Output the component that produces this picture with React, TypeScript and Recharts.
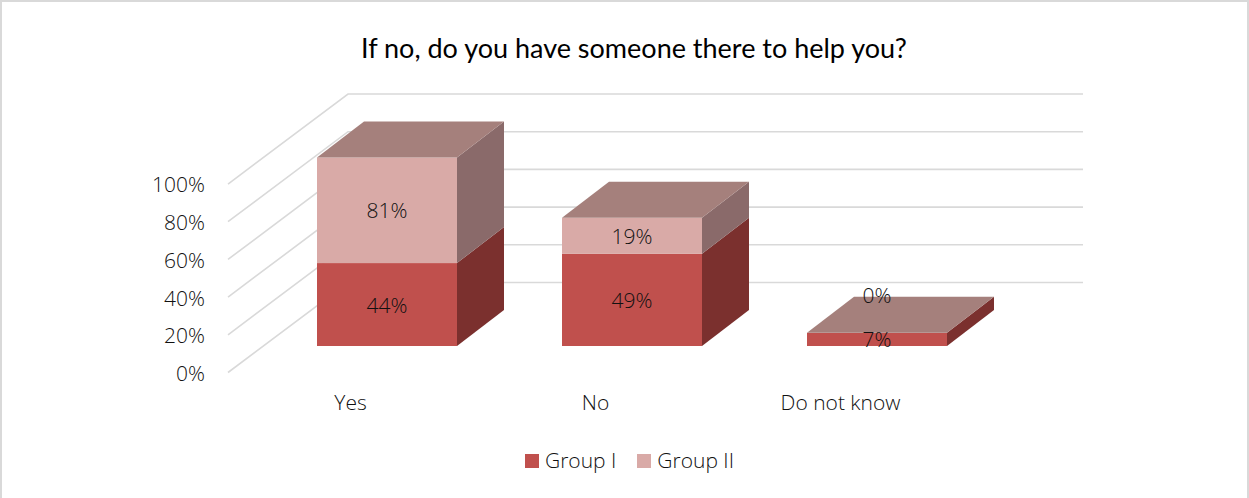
import { Bar, BarChart, CartesianGrid, Legend, XAxis, YAxis } from "recharts";

const categories = ["Yes", "No", "Do not know"];
const groupOne = [44, 49, 7];
const groupTwo = [81, 19, 0];
const percentTicks = [0, 20, 40, 60, 80, 100];

const rows = categories.map((name, i) => ({
  name,
  groupOne: groupOne[i],
  groupTwo: groupTwo[i],
}));

const FONT = "'Open Sans', sans-serif";
const TEXT = "#111111";
const AXIS_MAX = 100;
// scale runs past 100% so overflowing stacks stay on the plot, the drawing cuts them off at the top tick
const SCALE_MAX = 125;

// pseudo 3D offsets, in px
const FRONT = { dx: 36, dy: -26.5 };
const DEPTH = { dx: 47, dy: -36 };
const WALL = { dx: 120, dy: -90 };

const poly = (pts: number[][]) => pts.map((p) => p.join(",")).join(" ");

function WallLine(props: any) {
  const { x1, x2, y1 } = props;
  const d = `M${x1},${y1} L${x1 + WALL.dx},${y1 + WALL.dy} L${x2 + WALL.dx},${y1 + WALL.dy}`;
  return <path d={d} fill="none" stroke="#d9d9d9" strokeWidth={1.6} />;
}

function makeBlock(colors: { front: string; side: string }, isTop: boolean) {
  return function Block(props: any) {
    const { x, y, width, height, background, payload } = props;
    const value = isTop ? payload.groupTwo : payload.groupOne;
    const limit = background.y + background.height * (1 - AXIS_MAX / SCALE_MAX);
    const bottomEdge = y + height + FRONT.dy;
    const topEdge = Math.max(y, limit) + FRONT.dy;
    const left = x + FRONT.dx;
    const right = left + width;
    const h = bottomEdge - topEdge;
    const showRoof = isTop ? value > 0 : payload.groupTwo === 0;
    const labelY = h > 0 ? topEdge + h / 2 : topEdge + DEPTH.dy - 2;

    return (
      <g>
        {h > 0 && <rect x={left} y={topEdge} width={width} height={h} fill={colors.front} />}
        {h > 0 && (
          <polygon
            fill={colors.side}
            points={poly([
              [right, bottomEdge],
              [right + DEPTH.dx, bottomEdge + DEPTH.dy],
              [right + DEPTH.dx, topEdge + DEPTH.dy],
              [right, topEdge],
            ])}
          />
        )}
        {showRoof && (
          <polygon
            fill="#a5807c"
            points={poly([
              [left, topEdge],
              [right, topEdge],
              [right + DEPTH.dx, topEdge + DEPTH.dy],
              [left + DEPTH.dx, topEdge + DEPTH.dy],
            ])}
          />
        )}
        <text
          x={left + width / 2}
          y={labelY}
          textAnchor="middle"
          dominantBaseline="central"
          fontFamily={FONT}
          fontSize={21}
          fontWeight={300}
          fill={TEXT}
        >
          {value}%
        </text>
      </g>
    );
  };
}

const LowerBlock = makeBlock({ front: "#c0504d", side: "#7b302e" }, false);
const UpperBlock = makeBlock({ front: "#d9aaa7", side: "#8a6a6a" }, true);

function LegendRow({ payload }: any) {
  return (
    <div style={{ display: "flex", alignItems: "center", height: 26 }}>
      {(payload ?? []).map((item: any) => (
        <div key={item.value} style={{ display: "flex", alignItems: "center", marginRight: 21 }}>
          <span style={{ width: 14, height: 14, background: item.color, marginRight: 6, marginTop: 2 }} />
          <span style={{ color: TEXT, fontFamily: FONT, fontSize: 21, fontWeight: 300, lineHeight: "26px" }}>
            {item.value}
          </span>
        </div>
      ))}
    </div>
  );
}

export default function App() {
  return (
    <div style={{ position: "absolute", left: 0, top: 0, width: 1249, height: 498, background: "#fff" }}>
      <BarChart
        width={1249}
        height={498}
        data={rows}
        barSize={140}
        margin={{ top: 136.9, right: 286, bottom: 65.5, left: 168 }}
      >
        <text
          x={634}
          y={47}
          textAnchor="middle"
          dominantBaseline="central"
          fontFamily="Lato, sans-serif"
          fontSize={27}
          fill="#000"
        >
          If no, do you have someone there to help you?
        </text>
        <CartesianGrid vertical={false} horizontal={WallLine} horizontalValues={percentTicks} />
        <XAxis
          dataKey="name"
          axisLine={false}
          tickLine={false}
          height={60}
          tickMargin={17}
          tick={{ fontFamily: FONT, fontSize: 21, fontWeight: 300, fill: TEXT }}
        />
        <YAxis
          type="number"
          domain={[0, SCALE_MAX]}
          ticks={percentTicks}
          width={60}
          axisLine={false}
          tickLine={false}
          tickSize={0}
          tickMargin={23}
          tickFormatter={(v: number) => `${v}%`}
          tick={{ fontFamily: FONT, fontSize: 21, fontWeight: 300, fill: TEXT, dy: 1 }}
        />
        <Legend
          verticalAlign="middle"
          wrapperStyle={{ top: 447, left: 525, width: 260 }}
          content={LegendRow}
        />
        <Bar dataKey="groupOne" name="Group I" stackId="a" fill="#c0504d" shape={LowerBlock} isAnimationActive={false} />
        <Bar dataKey="groupTwo" name="Group II" stackId="a" fill="#d9aaa7" shape={UpperBlock} isAnimationActive={false} />
      </BarChart>
      <div
        style={{
          position: "absolute",
          inset: 0,
          boxSizing: "border-box",
          borderTop: "2px solid #d9d9d9",
          borderLeft: "2px solid #d9d9d9",
          borderRight: "2px solid #d9d9d9",
          pointerEvents: "none",
        }}
      />
    </div>
  );
}
